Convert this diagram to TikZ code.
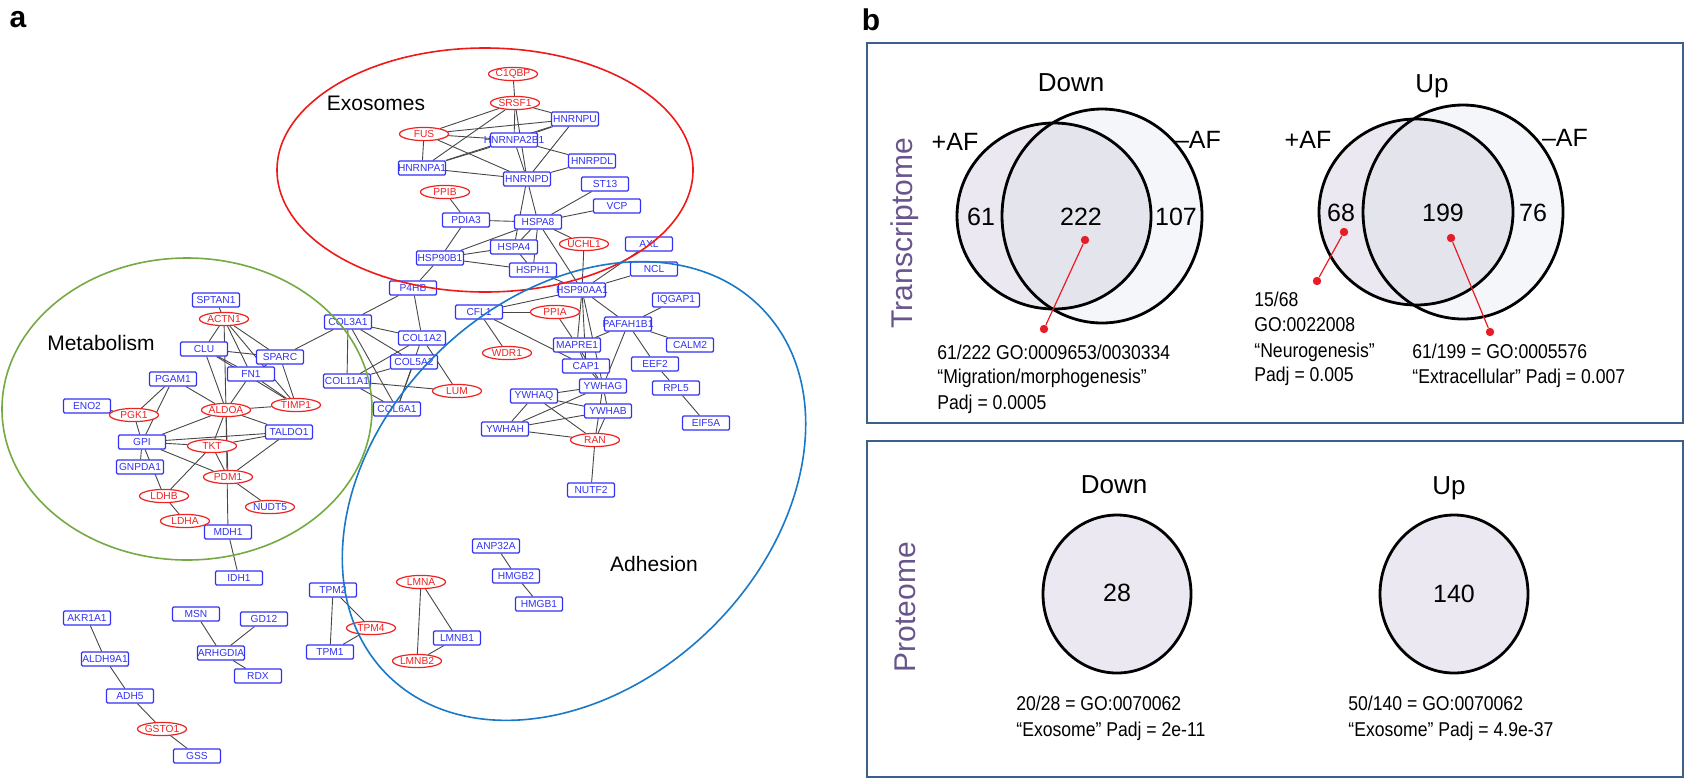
\documentclass[tikz,border=0pt]{standalone}
\usepackage{fontspec}
\setmainfont{Liberation Sans}
\newfontfamily\notefont[FakeStretch=0.88]{Liberation Sans}
\usetikzlibrary{backgrounds, positioning, shapes.geometric}

\definecolor{geneblue}{RGB}{50,50,245}
\definecolor{genered}{RGB}{240,35,35}
\definecolor{exored}{RGB}{240,25,25}
\definecolor{metgreen}{RGB}{115,170,65}
\definecolor{adhblue}{RGB}{25,120,200}
\definecolor{panelframe}{RGB}{60,95,140}
\definecolor{omicpurple}{RGB}{105,85,140}
\definecolor{vennplus}{RGB}{236,232,241}
\definecolor{vennminus}{RGB}{245,246,250}
\definecolor{vennboth}{RGB}{228,228,237}
\definecolor{dotred}{RGB}{232,28,38}

\tikzset{
  GeneBox/.style={draw=geneblue, text=geneblue, fill=white, rounded corners=0.6pt,
                  line width=0.6pt, minimum width=23.5pt, minimum height=7pt,
                  inner sep=0pt, font=\fontsize{5.1}{6}\selectfont},
  GeneOval/.style={ellipse, draw=genered, text=genered, fill=white, line width=0.6pt,
                  minimum width=24.5pt, minimum height=6.6pt, inner sep=0pt,
                  font=\fontsize{5.1}{6}\selectfont},
  Link/.style={draw=black!72, line width=0.45pt},
}

\begin{document}
\begin{tikzpicture}[x=0.5pt, y=-0.5pt,
    Region/.style={line width=0.8pt},
    Frame/.style={draw=panelframe, line width=1.4pt},
    VennLine/.style={draw=black, line width=1.4pt},
    RedDot/.style={circle, fill=dotred, inner sep=0pt, minimum size=4.2pt},
    RedLine/.style={draw=dotred, line width=0.6pt},
    Note/.style={anchor=base west, inner sep=0pt, font=\notefont\fontsize{10}{12}\selectfont},
    Title/.style={anchor=base, inner sep=0pt, font=\fontsize{13}{15}\selectfont},
    Count/.style={inner sep=0pt, font=\fontsize{12.5}{14}\selectfont},
    Omic/.style={rotate=90, inner sep=0pt, text=omicpurple, font=\fontsize{15}{17}\selectfont},
  ]
\useasboundingbox (0,0) rectangle (1685,778);

%% panel a: network
\node[font=\fontsize{15}{15}\selectfont\bfseries] (tagA) at (18,20) {a};

\foreach \n/\p in {HNRNPU/{575,119}, HNRNPA2B1/{514,140}, HNRPDL/{592,161},
    HNRNPA1/{422,168}, HNRNPD/{527,179}, PDIA3/{466,220}, HSPA8/{538,222},
    ST13/{605,184}, VCP/{617,206}, HSPA4/{514,247}, HSP90B1/{440,258},
    HSPH1/{533,270}, AXL/{649,244}, NCL/{654,269}, HSP90AA1/{582,290},
    P4HB/{413,288}, CFL1/{479,312}, IQGAP1/{676,300}, PAFAH1B1/{628,324},
    COL3A1/{348,322}, COL1A2/{422,338}, MAPRE1/{577,345}, CALM2/{690,345},
    COL5A2/{414,362}, CAP1/{586,366}, EEF2/{655,364}, COL11A1/{347,381},
    YWHAG/{603,386}, RPL5/{676,388}, YWHAQ/{534,396}, COL6A1/{397,409},
    YWHAB/{608,411}, YWHAH/{505,429}, EIF5A/{706,423}, NUTF2/{591,490},
    SPTAN1/{216,300}, CLU/{204,349}, SPARC/{280,357}, FN1/{251,374},
    PGAM1/{173,379}, ENO2/{87,406}, GPI/{142,442}, TALDO1/{289,432},
    GNPDA1/{140,467}, MDH1/{228,532}, IDH1/{239,578},
    AKR1A1/{87,618}, ALDH9A1/{105,659}, ADH5/{130,696}, GSS/{197,756},
    MSN/{196,614}, GD12/{264,619}, ARHGDIA/{221,653}, RDX/{258,676},
    TPM2/{333,590}, TPM1/{330,652}, LMNB1/{457,638},
    ANP32A/{496,546}, HMGB2/{516,576}, HMGB1/{539,604}}
  \node[GeneBox] (\n) at (\p) {\makebox[0pt]{\n}};

\foreach \n/\p in {C1QBP/{513,74}, SRSF1/{515,103}, FUS/{424,134}, PPIB/{445,192},
    UCHL1/{584,244}, PPIA/{555,312}, WDR1/{507,353}, LUM/{457,391}, RAN/{595,440},
    ACTN1/{224,319}, PGK1/{134,415}, ALDOA/{226,410}, TIMP1/{296,405},
    TKT/{212,446}, PDM1/{228,477}, LDHB/{164,496}, LDHA/{185,521},
    GSTO1/{162,729}, TPM4/{371,628}, LMNA/{421,582}, LMNB2/{417,661}}
  \node[GeneOval] (\n) at (\p) {\makebox[0pt]{\n}};
\node[GeneOval, text=geneblue] (NUDT5) at (270,507) {\makebox[0pt]{NUDT5}};

\begin{scope}[on background layer]
\foreach \a/\b in {C1QBP/SRSF1, SRSF1/HNRNPU, SRSF1/FUS, SRSF1/HNRNPA1,
    SRSF1/HNRNPA2B1, SRSF1/HNRNPD, FUS/HNRNPU, FUS/HNRNPA2B1, FUS/HNRNPA1,
    FUS/HNRNPD, HNRNPA1/HNRNPA2B1, HNRNPA1/HNRNPU, HNRNPA1/HNRNPD,
    HNRNPU/HNRNPA2B1, HNRNPU/HNRNPD, HNRNPA2B1/HNRNPD, HNRNPA2B1/HNRPDL,
    HNRNPD/HNRPDL, HNRNPD/HSPA8, HNRNPD/HSPA4, PPIB/PDIA3, PDIA3/HSPA8,
    PDIA3/HSP90B1, HSPA8/ST13, HSPA8/VCP, HSPA8/UCHL1, HSPA8/HSPA4,
    HSPA8/HSP90B1, HSPA8/HSPH1, HSPA8/HSP90AA1, HSPA4/HSP90B1, HSPA4/HSPH1,
    HSP90B1/HSPH1, HSP90B1/P4HB, HSPH1/HSP90AA1, UCHL1/HSP90AA1,
    AXL/HSP90AA1, NCL/HSP90AA1, HSP90AA1/CFL1, HSP90AA1/MAPRE1,
    HSP90AA1/CAP1, HSP90AA1/PAFAH1B1, HSP90AA1/YWHAG, CFL1/PPIA, CFL1/WDR1,
    CFL1/CAP1, PPIA/MAPRE1, PAFAH1B1/IQGAP1, PAFAH1B1/CALM2, PAFAH1B1/EEF2,
    PAFAH1B1/MAPRE1, PAFAH1B1/YWHAG, EEF2/RPL5, RPL5/EIF5A, MAPRE1/CAP1,
    MAPRE1/YWHAG, CAP1/YWHAG, YWHAG/YWHAQ, YWHAG/YWHAB, YWHAG/YWHAH,
    YWHAG/RAN, YWHAQ/YWHAB, YWHAQ/YWHAH, YWHAQ/RAN, YWHAH/YWHAB, YWHAH/RAN,
    YWHAB/RAN, RAN/NUTF2,
    P4HB/COL3A1, P4HB/COL1A2, COL3A1/SPARC, COL3A1/COL1A2, COL3A1/COL5A2,
    COL3A1/COL11A1, COL3A1/COL6A1, COL1A2/COL11A1, COL1A2/LUM, COL1A2/COL6A1,
    COL5A2/COL11A1, COL5A2/COL6A1, COL11A1/LUM, COL11A1/COL6A1,
    SPTAN1/ACTN1, ACTN1/CLU, ACTN1/ALDOA, ACTN1/SPARC, ACTN1/FN1, ACTN1/TIMP1,
    CLU/SPARC, CLU/FN1, CLU/TIMP1, CLU/ALDOA, SPARC/TIMP1, SPARC/FN1,
    FN1/ALDOA, FN1/TIMP1, ALDOA/TIMP1, PGAM1/ALDOA, PGAM1/PGK1, PGAM1/GPI,
    ENO2/PGK1, PGK1/GPI, ALDOA/GPI, ALDOA/TKT, ALDOA/TALDO1, ALDOA/PDM1,
    ALDOA/MDH1, GPI/TKT, GPI/TALDO1, GPI/PDM1, GPI/GNPDA1, GPI/LDHB,
    TKT/TALDO1, TKT/PDM1, TKT/LDHB, TALDO1/PDM1, PDM1/NUDT5, LDHB/LDHA,
    MDH1/IDH1,
    AKR1A1/ALDH9A1, ALDH9A1/ADH5, ADH5/GSTO1, GSTO1/GSS, MSN/ARHGDIA,
    GD12/ARHGDIA, ARHGDIA/RDX, TPM2/TPM1, TPM2/TPM4, TPM4/TPM1, LMNA/LMNB2,
    LMNA/LMNB1, LMNB1/LMNB2, ANP32A/HMGB2, HMGB2/HMGB1}
  \draw[Link] (\a) -- (\b);
\end{scope}

% groups
\draw[Region, exored] (485,170) ellipse [x radius=104pt, y radius=61pt];
\draw[Region, metgreen] (187,409) ellipse [x radius=92.5pt, y radius=75.5pt];
\begin{scope}[shift={(574,491)}, rotate=44]
  \draw[Region, adhblue] (0,0) ellipse [x radius=131pt, y radius=97pt];
\end{scope}
\node[font=\fontsize{10.5}{12}\selectfont] (lblExo) at (376,103) {Exosomes};
\node[font=\fontsize{10.5}{12}\selectfont] (lblMet) at (101,343) {Metabolism};
\node[font=\fontsize{10.5}{12}\selectfont] (lblAdh) at (654,564) {Adhesion};

%% panel b: overlaps
\node[font=\fontsize{15}{15}\selectfont\bfseries] (tagB) at (871,20) {b};
\draw[Frame] (867,43) rectangle (1683,423);
\draw[Frame] (867,441) rectangle (1683,777);
\node[Omic] (lblTx) at (905,233) {Transcriptome};
\node[Omic] (lblPr) at (905,607) {Proteome};

% transcriptome venns
\foreach \lx/\rx/\cy in {1054/1102/216, 1416/1463/212} {
  \fill[vennminus] (\rx,\cy) ellipse [x radius=50pt, y radius=53.5pt];
  \fill[vennplus] (\lx,\cy) ellipse [x radius=48.5pt, y radius=46.5pt];
  \begin{scope}
    \clip (\lx,\cy) ellipse [x radius=48.5pt, y radius=46.5pt];
    \fill[vennboth] (\rx,\cy) ellipse [x radius=50pt, y radius=53.5pt];
  \end{scope}
  \draw[VennLine] (\rx,\cy) ellipse [x radius=50pt, y radius=53.5pt];
  \draw[VennLine] (\lx,\cy) ellipse [x radius=48.5pt, y radius=46.5pt];
}
\node[Title] (txDown) at (1071,91) {Down};
\node[Title] (txUp) at (1432,92) {Up};
\node[Count] (plusA) at (955,142) {+AF};
\node[Count] (minusA) at (1198,140) {\textendash AF};
\node[Count] (plusB) at (1308,140) {+AF};
\node[Count] (minusB) at (1565,138) {\textendash AF};
\node[Count] (n61) at (981,217) {61};
\node[Count] (n222) at (1081,217) {222};
\node[Count] (n107) at (1176,217) {107};
\node[Count] (n68) at (1341,213) {68};
\node[Count] (n199) at (1443,213) {199};
\node[Count] (n76) at (1533,213) {76};

\node[RedDot] (dotA) at (1085,240) {};
\node[RedDot] (endA) at (1044,329) {};
\node[RedDot] (dotB) at (1344,232) {};
\node[RedDot] (endB) at (1317,281) {};
\node[RedDot] (dotC) at (1451,238) {};
\node[RedDot] (endC) at (1490,332) {};
\draw[RedLine] (dotA) -- (endA);
\draw[RedLine] (dotB) -- (endB);
\draw[RedLine] (dotC) -- (endC);

\node[Note] (goA1) at (937,359) {61/222 GO:0009653/0030334};
\node[Note] (goA2) at (937,383) {\textquotedblleft Migration/morphogenesis\textquotedblright};
\node[Note] (goA3) at (937,409) {Padj = 0.0005};
\node[Note] (goB1) at (1254,306) {15/68};
\node[Note] (goB2) at (1254,331) {GO:0022008};
\node[Note] (goB3) at (1254,357) {\textquotedblleft Neurogenesis\textquotedblright};
\node[Note] (goB4) at (1254,381) {Padj = 0.005};
\node[Note] (goC1) at (1412,358) {61/199 = GO:0005576};
\node[Note] (goC2) at (1412,383) {\textquotedblleft Extracellular\textquotedblright{} Padj = 0.007};

% proteome
\fill[vennplus] (1117,594) ellipse [x radius=37pt, y radius=39.5pt];
\draw[VennLine] (1117,594) ellipse [x radius=37pt, y radius=39.5pt];
\fill[vennplus] (1454,594) ellipse [x radius=37pt, y radius=39.5pt];
\draw[VennLine] (1454,594) ellipse [x radius=37pt, y radius=39.5pt];
\node[Title] (prDown) at (1114,493) {Down};
\node[Title] (prUp) at (1449,494) {Up};
\node[Count] (n28) at (1117,593) {28};
\node[Count] (n140) at (1454,594) {140};
\node[Note] (goD1) at (1016,710) {20/28 = GO:0070062};
\node[Note] (goD2) at (1016,736) {\textquotedblleft Exosome\textquotedblright{} Padj = 2e-11};
\node[Note] (goE1) at (1348,710) {50/140 = GO:0070062};
\node[Note] (goE2) at (1348,736) {\textquotedblleft Exosome\textquotedblright{} Padj = 4.9e-37};
\end{tikzpicture}
\end{document}
